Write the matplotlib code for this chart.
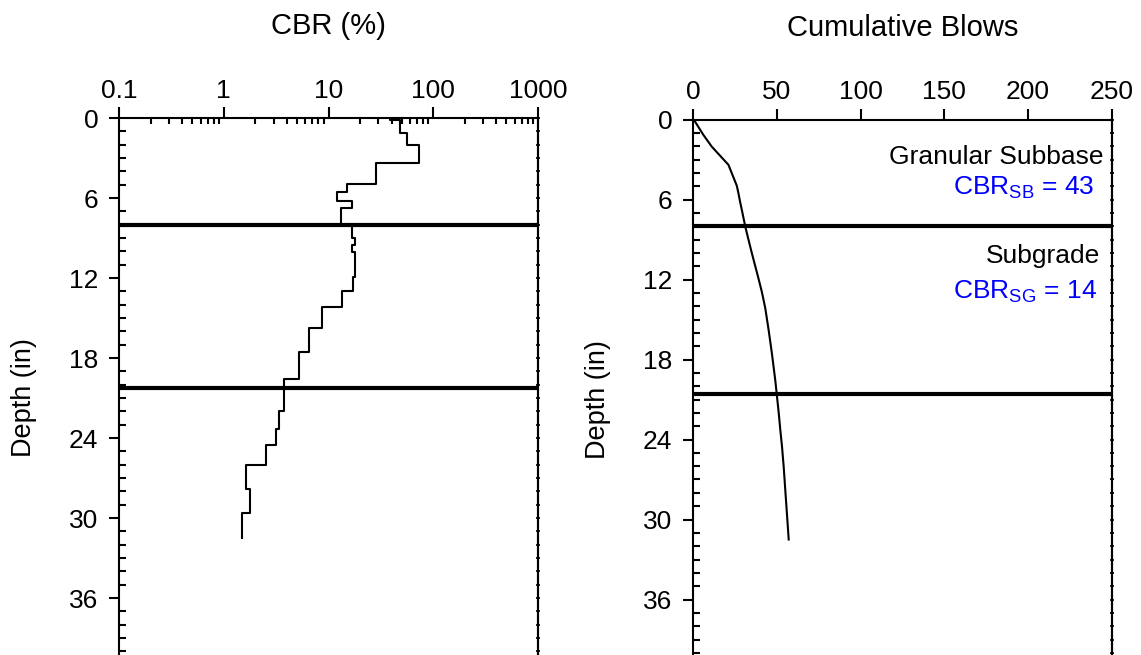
import numpy as np
import matplotlib
matplotlib.use('Agg')
import matplotlib.pyplot as plt
from matplotlib.ticker import MultipleLocator, LogLocator, NullFormatter

plt.rcParams['font.family'] = ['Liberation Sans', 'DejaVu Sans']
plt.rcParams['mathtext.fontset'] = 'custom'
plt.rcParams['mathtext.rm'] = 'Liberation Sans'
plt.rcParams['mathtext.it'] = 'Liberation Sans'

# CBR profile, one value per layer (depth in inches)
layer_top = [0, 0.15, 1.15, 2.03, 3.4, 4.97, 5.55, 6.2, 6.78, 8.0, 9.03, 9.53, 10.03,
             11.95, 12.95, 14.15, 15.78, 17.58, 19.58, 21.95, 23.3, 24.53, 26.03,
             27.86, 29.66]
test_bottom = 31.5
cbr = [38.7, 48.2, 55.8, 73.6, 28.2, 15.1, 12.1, 16.6, 13.1, 16.6, 17.9, 16.6, 17.9,
       17.0, 13.6, 8.6, 6.56, 5.26, 3.8, 3.37, 3.18, 2.51, 1.62, 1.78, 1.49]

# cumulative blows at each reading depth
reading_depth = layer_top + [test_bottom]
blows = [0, 1, 6, 11, 21, 26, 27, 28, 29, 31, 33, 34, 35, 39, 41, 43, 45, 47, 49,
         51, 52, 53, 54, 55, 56, 57]

# layer boundaries
subbase_bottom_left = 8.0
subgrade_bottom_left = 20.25
subbase_bottom_right = 8.0
subgrade_bottom_right = 20.6

cbr_sb = 43
cbr_sg = 14

FS = 19
W, H = 1141, 655

fig = plt.figure(figsize=(W / 100, H / 100), dpi=100)


def style_depth_axis(ax):
    ax.set_ylim(42, 0)
    ax.set_yticks(np.arange(0, 42, 6))
    ax.yaxis.set_minor_locator(MultipleLocator(1))
    ax.tick_params(axis='y', which='major', direction='out', length=7, width=1.5,
                   left=True, right=False, labelsize=FS, pad=8)
    ax.tick_params(axis='y', which='minor', direction='in', length=5, width=1.5,
                   left=True, right=False)
    ax.xaxis.tick_top()
    ax.xaxis.set_label_position('top')
    for s in ax.spines.values():
        s.set_linewidth(1.5)
    ax.spines['bottom'].set_visible(False)
    sec = ax.secondary_yaxis('right')
    sec.set_yticks(np.arange(0, 42, 6))
    sec.yaxis.set_minor_locator(MultipleLocator(1))
    sec.tick_params(which='both', direction='inout', length=3, width=1.2, labelright=False)
    sec.spines['right'].set_linewidth(1.5)
    ax.set_ylabel('Depth (in)', fontsize=19.5, labelpad=23)


# left: CBR profile
ax1 = fig.add_axes([119 / W, 1 - 678 / H, 419 / W, 560 / H])
ax1.set_xscale('log')
ax1.set_xlim(0.1, 1000)
style_depth_axis(ax1)
ax1.set_xticks([0.1, 1, 10, 100, 1000])
ax1.set_xticklabels(['0.1', '1', '10', '100', '1000'])
ax1.xaxis.set_minor_locator(LogLocator(base=10, subs=np.arange(2, 10)))
ax1.xaxis.set_minor_formatter(NullFormatter())
ax1.tick_params(axis='x', which='major', direction='out', length=8, width=1.5,
                top=True, bottom=False, labelsize=FS, pad=3)
ax1.tick_params(axis='x', which='minor', direction='in', length=4.5, width=1.5,
                top=True, bottom=False)
ax1.set_xlabel('CBR (%)', fontsize=21, labelpad=32)

ax1.plot(cbr + [cbr[-1]], reading_depth, drawstyle='steps-pre', color='black', lw=1.5)
ax1.axhline(subbase_bottom_left, color='black', lw=3)
ax1.axhline(subgrade_bottom_left, color='black', lw=3)

# right: cumulative blows
ax2 = fig.add_axes([693.3 / W, 1 - 679.5 / H, 418.4 / W, 560 / H])
ax2.set_xlim(0, 250)
style_depth_axis(ax2)
ax2.set_xticks(np.arange(0, 251, 50))
ax2.tick_params(axis='x', which='major', direction='out', length=8, width=1.5,
                top=True, bottom=False, labelsize=FS, pad=3)
ax2.set_xlabel('Cumulative Blows', fontsize=21, labelpad=32)

ax2.plot(blows, reading_depth, color='black', lw=1.5)
ax2.axhline(subbase_bottom_right, color='black', lw=3)
ax2.axhline(subgrade_bottom_right, color='black', lw=3)

ax2.text(245, 2.8, 'Granular Subbase', fontsize=FS, ha='right', va='center')
ax2.text(240, 5.1, r'CBR$_{\mathrm{SB}}$ = %d' % cbr_sb, fontsize=FS, ha='right',
         va='center', color='blue')
ax2.text(243, 10.2, 'Subgrade', fontsize=FS, ha='right', va='center')
ax2.text(241, 12.9, r'CBR$_{\mathrm{SG}}$ = %d' % cbr_sg, fontsize=FS, ha='right',
         va='center', color='blue')

fig.savefig('out.png', dpi=100)
